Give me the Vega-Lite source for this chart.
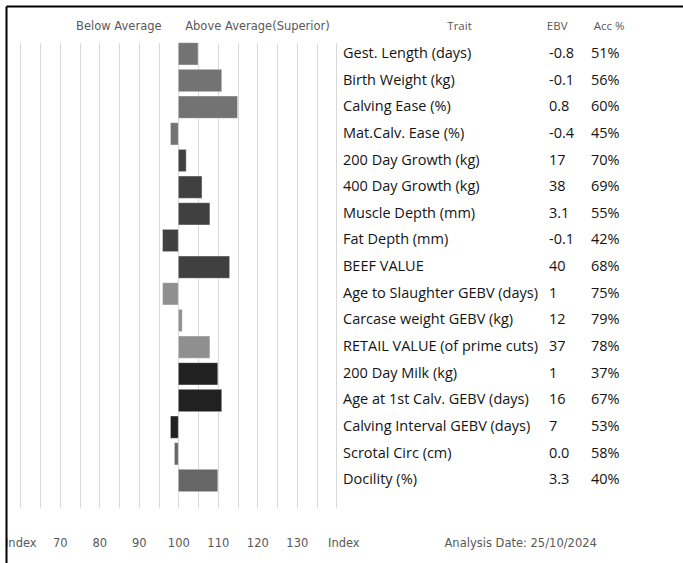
{
  "$schema": "https://vega.github.io/schema/vega-lite/v6.json",
  "width": 677,
  "height": 557,
  "autosize": {"type": "none"},
  "padding": {"left": 6, "top": 6, "right": 0, "bottom": 0},
  "background": "white",
  "config": {
    "view": {"stroke": null}
  },
  "data": {
    "values": [
      {"trait": "Gest. Length (days)", "ebv": "-0.8", "acc": 0.51, "index": 105, "group": "Calving"},
      {"trait": "Birth Weight (kg)", "ebv": "-0.1", "acc": 0.56, "index": 111, "group": "Calving"},
      {"trait": "Calving Ease (%)", "ebv": "0.8", "acc": 0.60, "index": 115, "group": "Calving"},
      {"trait": "Mat.Calv. Ease (%)", "ebv": "-0.4", "acc": 0.45, "index": 98, "group": "Calving"},
      {"trait": "200 Day Growth (kg)", "ebv": "17", "acc": 0.70, "index": 102, "group": "Growth"},
      {"trait": "400 Day Growth (kg)", "ebv": "38", "acc": 0.69, "index": 106, "group": "Growth"},
      {"trait": "Muscle Depth (mm)", "ebv": "3.1", "acc": 0.55, "index": 108, "group": "Growth"},
      {"trait": "Fat Depth (mm)", "ebv": "-0.1", "acc": 0.42, "index": 96, "group": "Growth"},
      {"trait": "BEEF VALUE", "ebv": "40", "acc": 0.68, "index": 113, "group": "Growth"},
      {"trait": "Age to Slaughter GEBV (days)", "ebv": "1", "acc": 0.75, "index": 96, "group": "Carcase"},
      {"trait": "Carcase weight GEBV (kg)", "ebv": "12", "acc": 0.79, "index": 101, "group": "Carcase"},
      {"trait": "RETAIL VALUE (of prime cuts)", "ebv": "37", "acc": 0.78, "index": 108, "group": "Carcase"},
      {"trait": "200 Day Milk (kg)", "ebv": "1", "acc": 0.37, "index": 110, "group": "Maternal"},
      {"trait": "Age at 1st Calv. GEBV (days)", "ebv": "16", "acc": 0.67, "index": 111, "group": "Maternal"},
      {"trait": "Calving Interval GEBV (days)", "ebv": "7", "acc": 0.53, "index": 98, "group": "Maternal"},
      {"trait": "Scrotal Circ (cm)", "ebv": "0.0", "acc": 0.58, "index": 99, "group": "Other"},
      {"trait": "Docility (%)", "ebv": "3.3", "acc": 0.40, "index": 110, "group": "Other"}
    ]
  },
  "resolve": {"axis": {"x": "independent"}, "scale": {"y": "independent"}},
  "layer": [
    {
      "mark": {"type": "bar", "stroke": "#ffffff", "strokeOpacity": 0.4, "strokeWidth": 1},
      "encoding": {
        "y": {
          "field": "trait", "type": "nominal", "sort": null, "axis": null,
          "scale": {"type": "band", "range": [36.7, 502], "paddingInner": 0.164, "paddingOuter": 0.307, "align": 0}
        },
        "x": {
          "field": "index", "type": "quantitative",
          "scale": {"domain": [56.38, 227.76], "nice": false, "zero": false},
          "axis": {
            "orient": "bottom",
            "values": [60, 65, 70, 75, 80, 85, 90, 95, 100, 105, 110, 115, 120, 125, 130, 135, 140],
            "grid": false,
            "domain": false, "ticks": false,
            "offset": 0, "labelPadding": -20, "labelBaseline": "middle",
            "labelFont": "DejaVu Sans", "labelFontSize": 11.5, "labelColor": "#595959",
            "labelOverlap": false, "labelFlush": false, "labelBound": false,
            "labelExpr": "datum.value == 60 || datum.value == 140 ? 'Index' : (datum.value % 10 == 0 ? datum.label : '')",
            "labelOffset": {"condition": {"test": "datum.value == 140", "value": 7}, "value": 0},
            "title": "Analysis Date: 25/10/2024",
            "titleX": 438, "titleY": -20, "titleAlign": "left", "titleBaseline": "middle", "titleAngle": 0,
            "titleFont": "DejaVu Sans", "titleFontSize": 11.5, "titleFontWeight": "normal", "titleColor": "#595959"
          }
        },
        "x2": {"datum": 100},
        "color": {
          "field": "group", "type": "nominal", "legend": null,
          "scale": {
            "domain": ["Calving", "Growth", "Carcase", "Maternal", "Other"],
            "range": ["#737373", "#404040", "#8f8f8f", "#212121", "#666666"]
          }
        }
      }
    },
    {
      "mark": {"type": "text", "align": "left", "baseline": "middle", "font": "Open Sans", "fontSize": 14.5, "color": "#141414"},
      "encoding": {
        "y": {
          "field": "trait", "type": "nominal", "sort": null, "axis": null,
          "scale": {"type": "band", "range": [36.7, 502], "paddingInner": 0.164, "paddingOuter": 0.307, "align": 0}
        },
        "x": {
          "datum": 141.69, "type": "quantitative",
          "axis": {
            "orient": "top",
            "values": [84.81, 119.92, 171.06, 195.79, 208.96],
            "grid": false, "domain": false, "ticks": false,
            "offset": -20, "labelPadding": 0, "labelBaseline": "middle",
            "labelOverlap": false, "labelFlush": false, "labelBound": false,
            "labelColor": "#595959",
            "labelFont": {"condition": {"test": "datum.value > 140", "value": "Open Sans"}, "value": "DejaVu Sans"},
            "labelFontSize": 11.5,
            "labelExpr": "datum.value < 100 ? 'Below Average' : datum.value < 140 ? 'Above Average(Superior)' : datum.value < 190 ? 'Trait' : datum.value < 200 ? 'EBV' : 'Acc %'",
            "title": null
          }
        },
        "text": {"field": "trait"}
      }
    },
    {
      "mark": {"type": "text", "align": "left", "baseline": "middle", "font": "Open Sans", "fontSize": 14.5, "color": "#141414"},
      "encoding": {
        "y": {
          "field": "trait", "type": "nominal", "sort": null, "axis": null,
          "scale": {"type": "band", "range": [36.7, 502], "paddingInner": 0.164, "paddingOuter": 0.307, "align": 0}
        },
        "x": {
          "datum": 193.84, "type": "quantitative",
          "axis": {
            "orient": "top",
            "values": [60, 65, 70, 75, 80, 85, 90, 95, 100, 105, 110, 115, 120, 125, 130, 135, 140],
            "grid": true, "gridColor": "#d9d9d9", "gridWidth": 1,
            "labels": false, "ticks": false,
            "domain": true, "domainColor": "#000000", "domainWidth": 2,
            "offset": 0, "title": null, "zindex": 0
          }
        },
        "text": {"field": "ebv"}
      }
    },
    {
      "mark": {"type": "text", "align": "left", "baseline": "middle", "font": "Open Sans", "fontSize": 14.5, "color": "#141414"},
      "encoding": {
        "y": {
          "field": "trait", "type": "nominal", "sort": null, "axis": null,
          "scale": {"type": "band", "range": [36.7, 502], "paddingInner": 0.164, "paddingOuter": 0.307, "align": 0}
        },
        "x": {"datum": 204.47, "type": "quantitative", "axis": null},
        "text": {"field": "acc", "type": "quantitative", "format": ".0%"}
      }
    },
    {
      "data": {"values": [{"frame": 0}]},
      "mark": {"type": "text", "text": ""},
      "encoding": {
        "y": {
          "field": "frame", "type": "quantitative",
          "scale": {"domain": [0, 1]},
          "axis": {
            "orient": "left", "domain": true, "domainColor": "#000000", "domainWidth": 2,
            "labels": false, "ticks": false, "grid": false, "title": null
          }
        }
      }
    }
  ]
}
